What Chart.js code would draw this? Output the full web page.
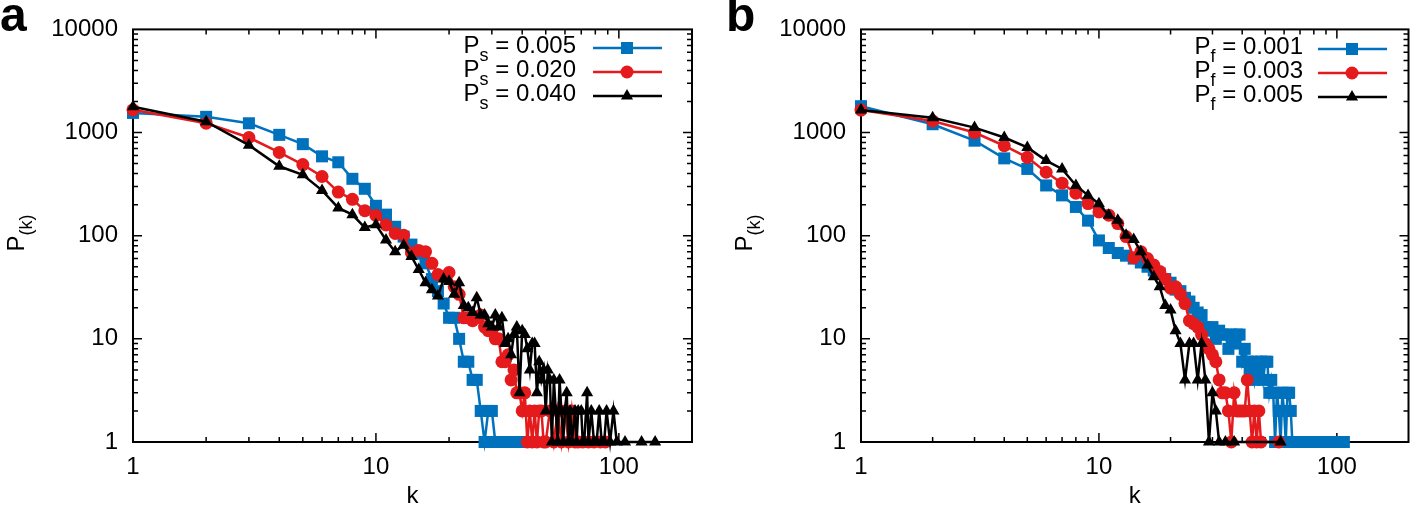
<!DOCTYPE html>
<html>
<head>
<meta charset="utf-8">
<script src="https://cdn.jsdelivr.net/npm/chart.js"></script>
<style>
  body { margin: 0; background: #fff; }
  #fig { position: relative; width: 1417px; height: 512px; overflow: hidden;
         font-family: "Liberation Sans", Arial, sans-serif; color: #000; }
  canvas { position: absolute; top: 0; }
  .key { position: absolute; font-size: 24px; line-height: 24px; white-space: nowrap; text-align: right; }
  .key sub, .ylab sub { font-size: 18px; vertical-align: -8px; line-height: 0; }
  .panel { position: absolute; font-size: 48px; font-weight: bold; line-height: 48px; }
  .ylab { position: absolute; width: 120px; height: 30px; line-height: 30px; font-size: 24px;
          text-align: center; transform: rotate(-90deg); }
</style>
</head>
<body>
<div id="fig">
  <canvas id="chartA" width="708" height="512" style="left:0"></canvas>
  <canvas id="chartB" width="709" height="512" style="left:708px"></canvas>
  <div class="panel" style="left:0;top:-9px">a</div>
  <div class="panel" style="left:726px;top:-9px">b</div>
  <div class="ylab" style="left:-44px;top:218px">P<sub>(k)</sub></div>
  <div class="ylab" style="left:684px;top:218px">P<sub>(k)</sub></div>
</div>
<script>
const xTickVals = [1, 10, 100];
const yTickVals = [1, 10, 100, 1000, 10000];

// panel a: P_s
const keyA = ['0.005', '0.020', '0.040'];
const aK005 = [1,2,3,4,5,6,7,8,9,10,11,12,13,14,15,16,17,18,19,20,21,22,23,24,25,26,27,28,29,30,31,32,33,35,36,38,40];
const aP005 = [1550,1420,1230,950,772,588,515,356,285,195,160,122,98,82,67,54,38,29,22,16,16,10,6,6,4,4,2,1,2,2,1,1,1,1,1,1,1];
const aK020 = [1,2,3,4,5,6,7,8,9,10,11,12,13,14,15,16,17,18,19,20,21,22,23,24,25,26,27,28,29,30,31,32,33,34,35,36,37,38,39,40,41,42,43,44,45,46,47,48,49,50,
               52,54,56,58,60,62,64,66,68,71,75,79,84,88];
const aP020 = [1660,1230,895,642,489,375,265,225,175,157,127,105,101,68,72,70,54,42,40,44,32,27,16,16,15,16,17,13,12,12,10,10,6,6,7,4,5,3,3,2,3,1,2,1,2,1,2,2,1,1,
               2,1,2,1,2,1,2,1,1,1,1,1,1,1];
const aK040 = [1,2,3,4,5,6,7,8,9,10,11,12,13,14,15,16,17,18,19,20,21,22,23,24,25,26,27,28,29,30,31,32,33,34,35,36,37,38,39,40,41,42,43,44,45,46,47,48,49,50,
               51,52,53,54,55,56,57,58,59,60,61,62,63,64,66,67,68,70,71,72,74,75,77,79,81,83,85,87,89,92,95,98,106,124,141];
const aP040 = [1780,1275,755,471,389,275,186,160,120,128,91,70,81,63,47,35,30,26,38,36,27,35,21,20,18,25,17,17,14,13,17,13,16,9,10,7,11,13,3,12,11,8,5,9,9,3,6,4,5,2,
               5,4,1,4,2,1,4,2,1,2,3,1,2,1,2,1,2,2,1,1,3,1,2,1,1,2,1,1,2,1,2,1,1,1,1];

// panel b: P_f
const keyB = ['0.001', '0.003', '0.005'];
const bK001 = [1,2,3,4,5,6,7,8,9,10,11,12,13,14,15,16,17,18,19,20,21,22,23,24,25,26,27,28,29,30,31,32,33,34,35,36,37,38,39,40,41,42,43,44,45,46,47,48,49,50,
               51,52,53,54,55,56,57,58,59,60,61,62,63,64,65,66,68,70,72,74,76,79,82,85,88,91,95,99,103,107];
const bP001 = [1800,1204,834,562,444,307,246,190,140,90,76,68,64,60,55,50,46,43,38,35,30,29,25,23,20,18,17,13,12,13,10,12,11,11,8,11,9,11,11,6,8,6,5,6,4,6,5,6,4,6,
               6,3,4,3,1,3,2,1,3,2,1,3,3,2,1,1,1,1,1,1,1,1,1,1,1,1,1,1,1,1];
const bK003 = [1,2,3,4,5,6,7,8,9,10,11,12,13,14,15,16,17,18,19,20,21,22,23,24,25,26,27,28,29,30,31,32,33,34,35,36,37,38,39,40,41,42,43,44,45,46,47,48,57];
const bP003 = [1653,1296,1000,745,575,412,323,258,205,170,158,131,98,61,70,60,52,45,38,31,32,27,22,15,14,13,11,9,8,7,6,4,3,3,2,1,3,2,2,2,2,4,2,1,2,1,2,1,1];
const bK005 = [1,2,3,4,5,6,7,8,9,10,11,12,13,14,15,16,17,18,19,20,21,22,23,24,25,26,27,28,29,30,31,32,34,37,58];
const bP005 = [1650,1394,1117,895,717,535,444,307,246,204,158,141,101,92,70,52,40,32,21,19,12,9,4,9,9,4,9,4,1,3,2,1,1,1,1];

const colors = ['#0072bd', '#e41a1c', '#000000'];
const marks = ['rect', 'circle', 'triangle'];
const markR = [8.5, 6.5, 7];
const tickFont = { family: '"Liberation Sans", Arial, sans-serif', size: 24 };

function minorVals(lo, hi) {
  const out = [];
  for (let d = lo; d < hi; d *= 10)
    for (let m = 2; m <= 9; m++) if (m * d <= hi) out.push(m * d);
  return out;
}

// gnuplot style frame, ticks pointing inwards on all four sides
const frameTicks = {
  id: 'frameTicks',
  beforeDatasetsDraw(chart) {
    const { ctx, chartArea: a, scales: { x, y } } = chart;
    ctx.save();
    ctx.strokeStyle = '#000';
    ctx.lineWidth = 1.5;
    ctx.beginPath();
    const tick = (vals, len) => {
      vals.forEach(v => {
        const px = x.getPixelForValue(v);
        if (px > a.left + 1 && px < a.right - 1) {
          ctx.moveTo(px, a.bottom); ctx.lineTo(px, a.bottom - len);
          ctx.moveTo(px, a.top); ctx.lineTo(px, a.top + len);
        }
      });
    };
    const ytick = (vals, len) => {
      vals.forEach(v => {
        const py = y.getPixelForValue(v);
        if (py > a.top + 1 && py < a.bottom - 1) {
          ctx.moveTo(a.left, py); ctx.lineTo(a.left + len, py);
          ctx.moveTo(a.right, py); ctx.lineTo(a.right - len, py);
        }
      });
    };
    tick(xTickVals, 9);
    tick(minorVals(1, 200), 5);
    ytick(yTickVals, 9);
    ytick(minorVals(1, 10000), 5);
    ctx.stroke();
    ctx.lineWidth = 2;
    ctx.strokeRect(a.left, a.top, a.right - a.left, a.bottom - a.top);
    ctx.restore();
  }
};

// line + marker samples of the key (text is html)
const keySamples = {
  id: 'keySamples',
  afterDatasetsDraw(chart, args, opts) {
    const ctx = chart.ctx;
    chart.data.datasets.forEach((ds, i) => {
      const y = opts.rows[i];
      ctx.save();
      ctx.strokeStyle = ds.borderColor;
      ctx.lineWidth = ds.borderWidth;
      ctx.beginPath();
      ctx.moveTo(opts.x0, y);
      ctx.lineTo(opts.x1, y);
      ctx.stroke();
      ctx.fillStyle = ds.pointBackgroundColor;
      Chart.helpers.drawPoint(ctx, { pointStyle: ds.pointStyle, radius: ds.pointRadius, rotation: 0, borderWidth: 0 }, opts.xm, y);
      ctx.restore();
    });
  }
};

function makeSets(ks, ps) {
  return ks.map((k, i) => ({
    data: k.map((v, j) => ({ x: v, y: ps[i][j] })),
    borderColor: colors[i],
    backgroundColor: colors[i],
    pointBackgroundColor: colors[i],
    pointBorderWidth: 0,
    pointStyle: marks[i],
    pointRadius: markR[i],
    borderWidth: 2.5,
    tension: 0,
    clip: false,
    order: 3 - i
  }));
}

function makeChart(id, sets, yWidth, padRight, key) {
  return new Chart(document.getElementById(id), {
    type: 'line',
    data: { datasets: sets },
    plugins: [frameTicks, keySamples],
    options: {
      responsive: false,
      animation: false,
      events: [],
      layout: { padding: { top: 25, right: padRight, left: 0, bottom: 0 } },
      plugins: { legend: { display: false }, tooltip: { enabled: false }, keySamples: key },
      scales: {
        x: {
          type: 'logarithmic', min: 1, max: 200,
          grid: { display: false, drawTicks: false },
          border: { display: false },
          afterBuildTicks: s => { s.ticks = xTickVals.map(v => ({ value: v })); },
          afterFit: s => { s.height = 70; },
          ticks: { callback: v => String(v), color: '#000', padding: 11, maxRotation: 0, autoSkip: false, font: tickFont },
          title: { display: true, text: 'k', color: '#000', padding: { top: 0, bottom: 1 }, font: tickFont }
        },
        y: {
          type: 'logarithmic', min: 1, max: 10000,
          grid: { display: false, drawTicks: false },
          border: { display: false },
          afterBuildTicks: s => { s.ticks = yTickVals.map(v => ({ value: v })); },
          afterFit: s => { s.width = yWidth; },
          ticks: { callback: v => String(v), color: '#000', padding: 15, autoSkip: false, font: tickFont }
        }
      }
    }
  });
}

function addKey(sym, vals, right, tops) {
  const fig = document.getElementById('fig');
  vals.forEach((v, i) => {
    const d = document.createElement('div');
    d.className = 'key';
    d.style.right = (1417 - right) + 'px';
    d.style.top = tops[i] + 'px';
    d.innerHTML = 'P<sub>' + sym + '</sub> = ' + v;
    fig.appendChild(d);
  });
}

makeChart('chartA', makeSets([aK005, aK020, aK040], [aP005, aP020, aP040]), 133, 16,
  { x0: 593, x1: 662, xm: 627, rows: [48, 72, 96] });
makeChart('chartB', makeSets([bK001, bK003, bK005], [bP001, bP003, bP005]), 153, 2,
  { x0: 1318 - 708, x1: 1387 - 708, xm: 1352 - 708, rows: [49, 73, 97] });

addKey('s', keyA, 576, [33, 57, 81]);
addKey('f', keyB, 1303, [34, 58, 82]);
</script>
</body>
</html>
